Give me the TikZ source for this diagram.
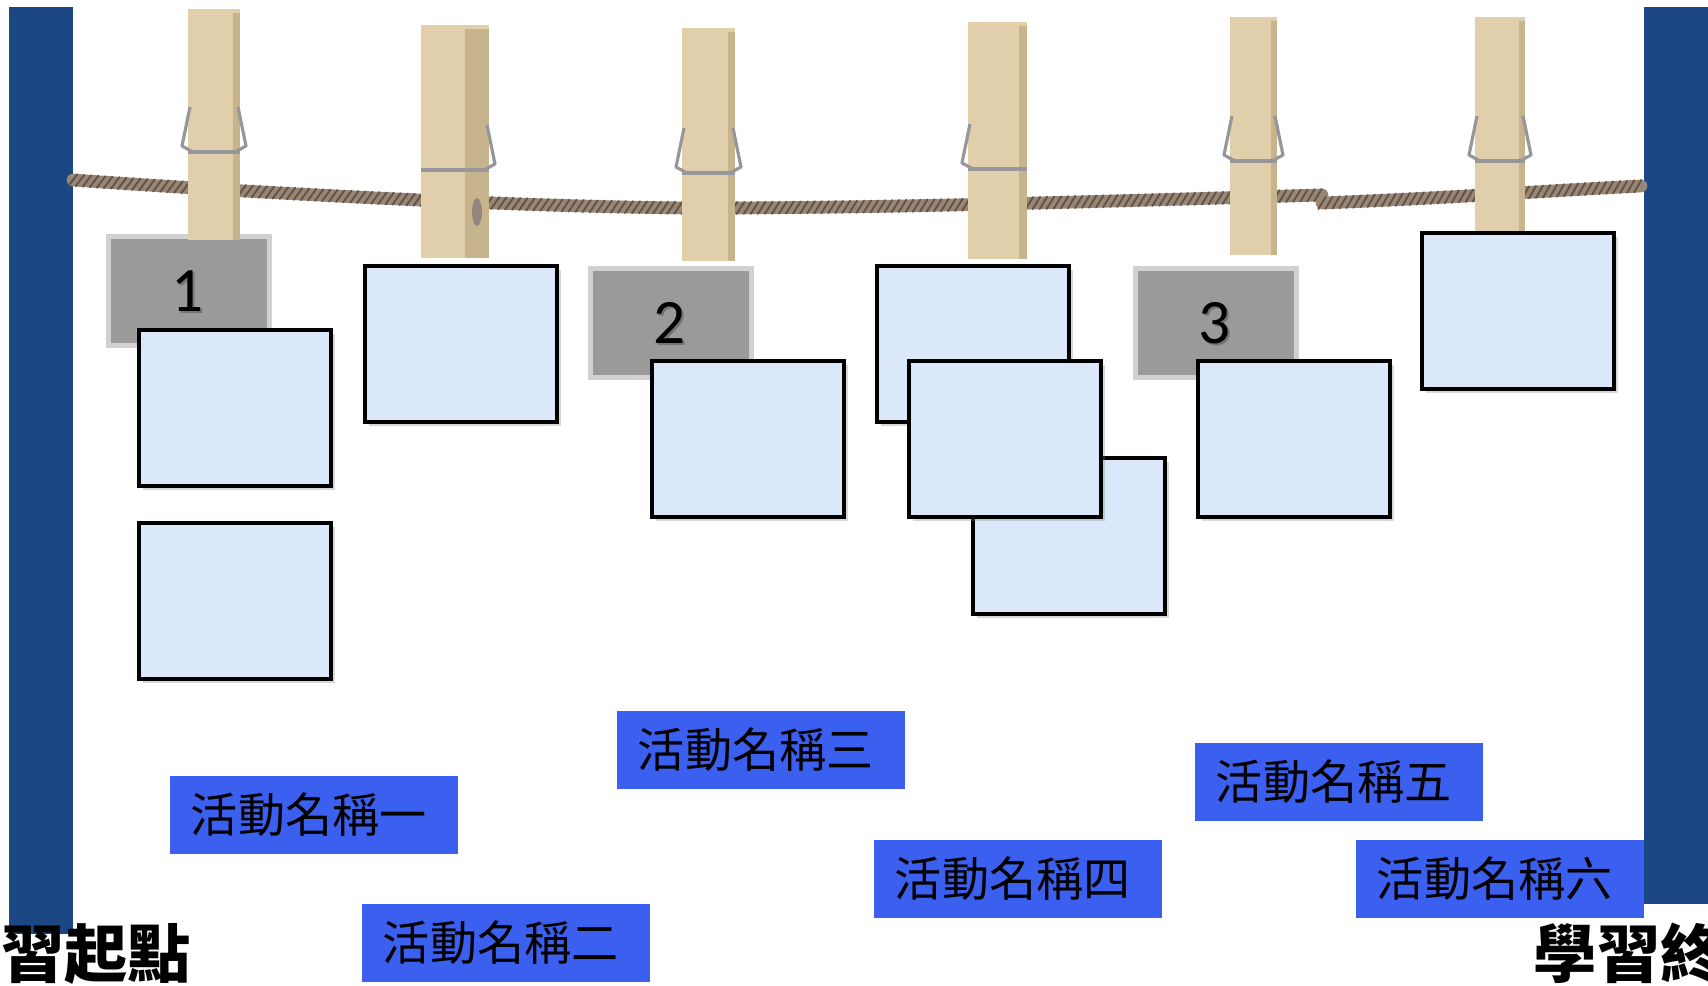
\documentclass[tikz,border=0pt]{standalone}
\usepackage{fontspec}
\setmainfont{Carlito}
\newfontfamily\cjk{Noto Sans CJK TC}
\usetikzlibrary{shadows,decorations.markings}

\definecolor{barblue}{RGB}{27,71,133}
\definecolor{tagblue}{RGB}{59,95,238}
\definecolor{cardblue}{RGB}{218,232,250}
\definecolor{wood}{RGB}{224,207,170}
\definecolor{woodside}{RGB}{200,180,140}
\definecolor{ropecol}{RGB}{152,134,118}
\definecolor{ropedark}{RGB}{100,84,70}
\definecolor{shade}{RGB}{154,154,154}
\definecolor{metal}{RGB}{150,150,155}

\begin{document}
\begin{tikzpicture}[
    x=0.01cm, y=-0.01cm,
    card/.style={rectangle, draw=black, line width=1.3pt, fill=cardblue,
                 minimum width=1.92cm, minimum height=1.56cm, inner sep=0pt,
                 drop shadow={shadow xshift=1.2pt, shadow yshift=-1.2pt, opacity=0.3}},
    tag/.style={rectangle, fill=tagblue, minimum width=2.88cm, minimum height=0.77cm,
                inner sep=0pt, text=black, font=\cjk\fontsize{13.4pt}{16pt}\selectfont},
    tab/.style={rectangle, fill=shade, draw=shade, line width=3pt, draw opacity=0.45,
                minimum width=1.55cm, minimum height=1.03cm, inner sep=0pt},
    digit/.style={font=\fontsize{18pt}{20pt}\selectfont, inner sep=0pt},
    corner/.style={inner sep=0pt, font=\cjk\bfseries\fontsize{18pt}{20pt}\selectfont},
    ropeline/.style={ropecol, line width=3.6pt, line cap=round,
                     postaction={decorate, decoration={markings,
                       mark=between positions 0 and 1 step 2pt with
                       {\draw[ropedark, line width=0.55pt] (-1.1pt,-1.7pt) -- (1.1pt,1.7pt);}}}},
    wire/.style={metal, line width=0.9pt, line join=round},
    bar/.style={fill=barblue}
]

\useasboundingbox (0,0) rectangle (1708,986);
\clip (0,0) rectangle (1708,986);
\fill[white] (0,0) rectangle (1708,986);

% Side posts
\fill[bar] (9,7) rectangle (73,934);
\fill[bar] (1644,7) rectangle (1708,904);

% Number tabs
\node[tab] (tab1) at (189,291) {};
\node[tab] (tab2) at (671,323) {};
\node[tab] (tab3) at (1216,323) {};
\foreach \t/\n in {tab1/1, tab2/2, tab3/3} {
    \node[digit, text=black!55, xshift=0.1pt, yshift=-0.6pt] at (\t) {\n};
    \node[digit, xshift=-0.5pt] (\t-num) at (\t) {\n};
}

% Clothes line
\draw[ropeline] (73,180) .. controls (300,196) and (560,208) .. (708,208)
    .. controls (900,208) and (1150,200) .. (1322,195);
\draw[ropeline] (1322,203) .. controls (1450,198) and (1560,190) .. (1641,186);

% Pegs: left/right/top/bottom/spring/side width/spring side
\foreach \pl/\pr/\pt/\pb/\ps/\sw/\sd in {188/240/9/240/152/7/0, 421/489/25/258/170/24/1,
    682/735/28/261/173/7/0, 968/1027/22/259/169/8/2,
    1230/1277/17/255/161/6/0, 1475/1525/17/232/161/6/0} {
    \fill[wood] (\pl,\pt) rectangle (\pr,\pb);
    \fill[woodside] ({\pr-\sw},{\pt+4}) rectangle (\pr,\pb);
    \draw[wire, line width=1.2pt] (\pl,\ps) -- (\pr,\ps);
    \ifnum\sd=2\else
        \draw[wire] ({\pr-2},{\ps-45}) -- ({\pr+6},{\ps-6}) -- ({\pr-5},\ps);
    \fi
    \ifnum\sd=1\else
        \draw[wire] ({\pl+2},{\ps-45}) -- ({\pl-6},{\ps-6}) -- ({\pl+5},\ps);
    \fi
}
\fill[ropedark!70] (477,212) ellipse (5 and 14);

% Cards
\node[card] (c1) at (235,408) {};
\node[card] (c2) at (235,601) {};
\node[card] (c3) at (461,344) {};
\node[card] (c4) at (748,439) {};
\node[card] (c5) at (973,344) {};
\node[card] (c6) at (1069,536) {};
\node[card] (c7) at (1005,439) {};
\node[card] (c8) at (1294,439) {};
\node[card] (c9) at (1518,311) {};

% Activity tags
\node[tag] (act1) at (314,815) {\hspace*{-3pt}活動名稱一};
\node[tag] (act2) at (506,943) {\hspace*{-3pt}活動名稱二};
\node[tag] (act3) at (761,750) {\hspace*{-3pt}活動名稱三};
\node[tag] (act4) at (1018,879) {\hspace*{-3pt}活動名稱四};
\node[tag] (act5) at (1339,782) {\hspace*{-3pt}活動名稱五};
\node[tag] (act6) at (1500,879) {\hspace*{-3pt}活動名稱六};

% Start and end
\node[corner, anchor=base east] (start) at (192,978) {學習起點};
\node[corner, anchor=base west] (finish) at (1533,978) {學習終點};

\end{tikzpicture}
\end{document}
